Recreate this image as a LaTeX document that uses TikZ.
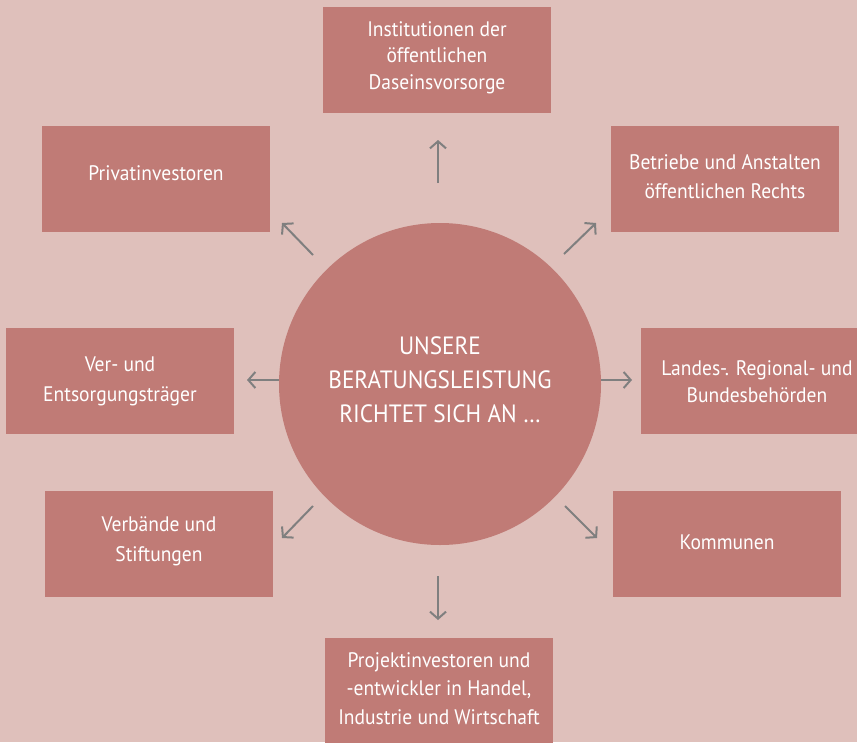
\documentclass[tikz,border=0pt]{standalone}
\usepackage{fontspec}
\setmainfont[FakeStretch=0.93]{PT Sans}
\usetikzlibrary{arrows.meta}
\definecolor{bgc}{HTML}{DFC0BB}
\definecolor{boxc}{HTML}{C07B76}
\definecolor{arrc}{HTML}{7F7F7F}
\tikzset{
  tbox/.style={fill=boxc, draw=none, minimum width=228pt, minimum height=106pt, inner sep=0pt},
  tlab/.style={text=white, align=center, inner sep=0pt, anchor=base, font=\fontsize{21}{#1}\selectfont},
  tlab/.default=29,
  arr/.style={draw=arrc, line width=2pt, -{Straight Barb[length=7pt,width=16pt,line width=2pt]}}
}
\begin{document}
\begin{tikzpicture}[x=1pt,y=-1pt]
\fill[bgc] (0,0) rectangle (857,742);
\useasboundingbox (0,0) rectangle (857,742);
\node[circle, fill=boxc, minimum size=322pt, inner sep=0pt] (c) at (440,384) {};
\node[text=white, align=center, inner sep=0pt, anchor=base, font=\fontsize{25}{34}\selectfont] (ct) at (440,422) {UNSERE\\BERATUNGSLEISTUNG\\RICHTET SICH AN …};
\node[tbox] (n) at (437,59.5) {};
\node[tlab=26.5] (nt) at (437,89.3) {Institutionen der\\öffentlichen\\Daseinsvorsorge};
\node[tbox] (nw) at (156,179) {};
\node[tlab] (nwt) at (156,180) {Privatinvestoren};
\node[tbox] (ne) at (725,179) {};
\node[tlab] (net) at (725,198) {Betriebe und Anstalten\\öffentlichen Rechts};
\node[tbox] (w) at (120,381) {};
\node[tlab=30] (wt) at (120,401) {Ver- und\\Entsorgungsträger};
\node[tbox, minimum width=216pt] (e) at (749,381) {};
\node[tlab=27] (et) at (757,402) {Landes-. Regional- und\\Bundesbehörden};
\node[tbox] (sw) at (159,544) {};
\node[tlab=30] (swt) at (159,561) {Verbände und\\Stiftungen};
\node[tbox] (se) at (727,544) {};
\node[tlab] (set) at (727,549) {Kommunen};
\node[tbox] (s) at (439,691) {};
\node[tlab=28.5] (st) at (439,724) {Projektinvestoren und\\-entwickler in Handel,\\Industrie und Wirtschaft};
\coordinate (an1) at (438,183); \coordinate (an2) at (438,140);
\coordinate (as1) at (438,576); \coordinate (as2) at (438,620);
\coordinate (aw2) at (247,380); \coordinate (ae2) at (632,380);
\coordinate (anw1) at (313,255); \coordinate (anw2) at (282,223);
\coordinate (ane1) at (564,254); \coordinate (ane2) at (596,223);
\coordinate (asw1) at (313,506); \coordinate (asw2) at (282,538);
\coordinate (ase1) at (565,506); \coordinate (ase2) at (597,538);
\draw[arr] (an1) -- (an2);
\draw[arr] (as1) -- (as2);
\draw[arr] (c.west |- aw2) -- (aw2);
\draw[arr] (c.east |- ae2) -- (ae2);
\draw[arr] (anw1) -- (anw2);
\draw[arr] (ane1) -- (ane2);
\draw[arr] (asw1) -- (asw2);
\draw[arr] (ase1) -- (ase2);
\end{tikzpicture}
\end{document}
